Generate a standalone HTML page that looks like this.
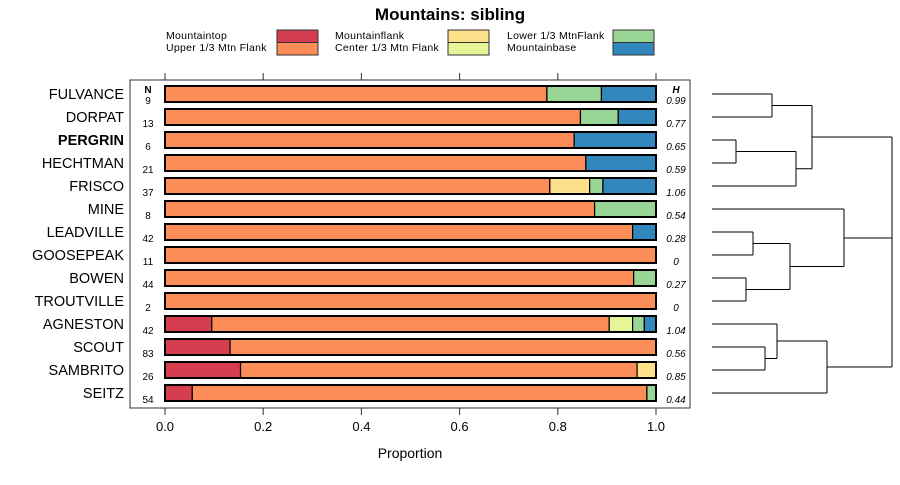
<!DOCTYPE html>
<html><head><meta charset="utf-8"><style>
body{margin:0;background:#fff;}
svg{font-family:"Liberation Sans",sans-serif;}
</style></head><body>
<svg id="chart" width="900" height="480" viewBox="0 0 900 480">
<text x="450" y="20" text-anchor="middle" font-size="17" font-weight="bold">Mountains: sibling</text>
<g id="legend"></g>
<rect x="130" y="80" width="560" height="328" fill="none" stroke="#333"/>
<g id="axes"></g>
<g id="bars"></g>
<g id="dendro" stroke="#000" fill="none"></g>
<text x="410" y="458" text-anchor="middle" font-size="14">Proportion</text>
</svg>
<script>
const categories = ["FULVANCE","DORPAT","PERGRIN","HECHTMAN","FRISCO","MINE","LEADVILLE","GOOSEPEAK","BOWEN","TROUTVILLE","AGNESTON","SCOUT","SAMBRITO","SEITZ"];
const seriesNames = ["Mountaintop","Upper 1/3 Mtn Flank","Mountainflank","Center 1/3 Mtn Flank","Lower 1/3 MtnFlank","Mountainbase"];
const mountaintop = [0,0,0,0,0,0,0,0,0,0,4,11,4,3];
const upperFlank = [7,11,5,18,29,7,40,11,42,2,34,72,21,50];
const mountainflank = [0,0,0,0,3,0,0,0,0,0,0,0,1,0];
const centerFlank = [0,0,0,0,0,0,0,0,0,0,2,0,0,0];
const lowerFlank = [1,1,0,0,1,1,0,0,2,0,1,0,0,1];
const mountainbase = [1,1,1,3,4,0,2,0,0,0,1,0,0,0];
const nValues = [9,13,6,21,37,8,42,11,44,2,42,83,26,54];
const hValues = ["0.99","0.77","0.65","0.59","1.06","0.54","0.28","0","0.27","0","1.04","0.56","0.85","0.44"];
const xTicks = [0,0.2,0.4,0.6,0.8,1.0];
const xTickLabels = ["0.0","0.2","0.4","0.6","0.8","1.0"];
const colors = ["#d53e4f","#fc8d59","#fee08b","#e6f598","#99d594","#3288bd"];
const NS="http://www.w3.org/2000/svg";
function mk(tag, attrs, parent){const e=document.createElementNS(NS,tag);for(const k in attrs)e.setAttribute(k,attrs[k]);parent.appendChild(e);return e;}
const xScale = v => 165 + v*491;
const yScale = i => 94 + i*23;
const series=[mountaintop,upperFlank,mountainflank,centerFlank,lowerFlank,mountainbase];
// legend
const lg=document.getElementById('legend');
const legPos=[[166,277],[335,448],[507,613]];
seriesNames.forEach((n,k)=>{
  const col=Math.floor(k/2), row=k%2;
  const t=mk('text',{x:legPos[col][0],y:39+row*12,'font-size':10.5,'letter-spacing':0.3},lg);
  
  
  t.textContent=n;
  const r=mk('rect',{x:legPos[col][1],y:30+row*12.5,width:41,height:12.5,fill:colors[k],stroke:'#333'},lg);
  
  
});
// axes
const ax=document.getElementById('axes');
xTicks.forEach((v,i)=>{
  const x=xScale(v);
  const t1=mk('line',{x1:x,x2:x,y1:73,y2:80,stroke:'#333'},ax);
  
  
  const t2=mk('line',{x1:x,x2:x,y1:408,y2:415,stroke:'#333'},ax);
  
  
  const tl=mk('text',{x:x,y:431,'text-anchor':'middle','font-size':13},ax);
  
  
  tl.textContent=xTickLabels[i];
});
const hdrN=mk('text',{x:148,y:93,'text-anchor':'middle','font-size':10,'font-weight':'bold'},ax);


hdrN.textContent='N';
const hdrH=mk('text',{x:676,y:93,'text-anchor':'middle','font-size':10,'font-weight':'bold','font-style':'italic'},ax);


hdrH.textContent='H';
// bars
const bg=document.getElementById('bars');
categories.forEach((c,i)=>{
  const y=yScale(i);
  const lab=mk('text',{x:124,y:y+5,'text-anchor':'end','font-size':14.5,'font-weight':c==='PERGRIN'?'bold':'normal'},bg);
  
  
  lab.textContent=c;
  const nt=mk('text',{x:148,y:y+10,'text-anchor':'middle','font-size':10},bg);
  
  
  nt.textContent=nValues[i];
  const ht=mk('text',{x:676,y:y+10,'text-anchor':'middle','font-size':10,'font-style':'italic'},bg);
  
  
  ht.textContent=hValues[i];
  const tot=series.reduce((s,a)=>s+a[i],0);
  let cum=0;
  series.forEach((a,k)=>{
    if(a[i]<=0)return;
    const x0=xScale(cum/tot); cum+=a[i]; const x1=xScale(cum/tot);
    const r=mk('rect',{x:x0,y:y-8,width:x1-x0,height:16,fill:colors[k],stroke:'#000','stroke-width':1.2},bg);
    
    
  });
  const o=mk('rect',{x:xScale(0),y:y-8,width:xScale(1)-xScale(0),height:16,fill:'none',stroke:'#000','stroke-width':2},bg);
  
  
});
// dendrogram
const dg=document.getElementById('dendro');
const leafX=712;
const segs=[
 [leafX,94,772,94],[leafX,117,772,117],[772,94,772,117],
 [leafX,140,736,140],[leafX,163,736,163],[736,140,736,163],
 [736,151.5,796,151.5],[leafX,186,796,186],[796,151.5,796,186],
 [772,105.5,812,105.5],[796,168.75,812,168.75],[812,105.5,812,168.75],
 [leafX,232,753,232],[leafX,255,753,255],[753,232,753,255],
 [leafX,278,746,278],[leafX,301,746,301],[746,278,746,301],
 [753,243.5,790,243.5],[746,289.5,790,289.5],[790,243.5,790,289.5],
 [leafX,209,844,209],[790,266.5,844,266.5],[844,209,844,266.5],
 [leafX,347,765,347],[leafX,370,765,370],[765,347,765,370],
 [leafX,324,777,324],[765,358.5,777,358.5],[777,324,777,358.5],
 [777,341,827,341],[leafX,393,827,393],[827,341,827,393],
 [812,137,892,137],[844,238,892,238],[827,367,892,367],[892,137,892,367]
];
segs.forEach(s=>{
  const l=mk('line',{x1:s[0],y1:s[1],x2:s[2],y2:s[3],'stroke-width':1},dg);
  
  
});
</script>
</body></html>
